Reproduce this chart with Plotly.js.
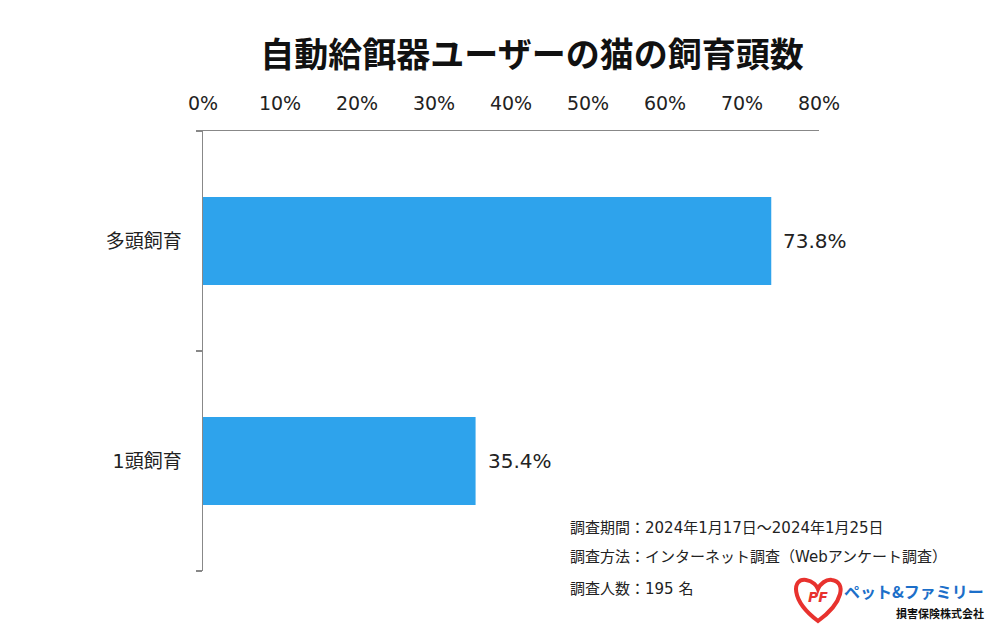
<!DOCTYPE html>
<html>
<head>
<meta charset="utf-8">
<script src="https://cdn.plot.ly/plotly-3.0.1.min.js"></script>
<style>html,body{margin:0;padding:0;background:#fff;}#chart{width:1000px;height:626px;}</style>
</head>
<body>
<div id="chart"></div>
<script>
var categories = ["1頭飼育", "多頭飼育"];
var values = [35.4, 73.8];
var valueLabels = ["35.4%", "73.8%"];
var tickValues = [0, 10, 20, 30, 40, 50, 60, 70, 80];
var tickLabels = ["0%", "10%", "20%", "30%", "40%", "50%", "60%", "70%", "80%"];
var titleText = "自動給餌器ユーザーの猫の飼育頭数";
var notes = ["調査期間：2024年1月17日～2024年1月25日", "調査方法：インターネット調査（Webアンケート調査）", "調査人数：195 名"];

var FONT = "DejaVu Sans, Noto Sans CJK JP, sans-serif";
var L = 203, R = 819, T = 131, B = 571;
function px(x) { return (x - L) / (R - L); }
function py(y) { return (B - y) / (B - T); }

var trace = {
  type: "bar",
  orientation: "h",
  x: values,
  y: categories,
  width: 0.4,
  marker: {color: "#2EA3EC"},
  hoverinfo: "none",
  cliponaxis: false
};

var annotations = values.map(function(v, i) {
  return {x: v, y: categories[i], xref: "x", yref: "y", text: valueLabels[i],
    showarrow: false, xanchor: "left", xshift: 10, font: {family: FONT, size: 20, color: "#222"}};
});
var noteY = [528, 557, 589];
notes.forEach(function(t, i) {
  annotations.push({x: px(568), y: py(noteY[i]), xref: "paper", yref: "paper",
    text: t, showarrow: false, xanchor: "left", yanchor: "middle",
    font: {family: FONT, size: 15, color: "#222"}});
});
// logo text
annotations.push({x: px(842), y: py(591), xref: "paper", yref: "paper", text: "<b>ペット&amp;ファミリー</b>",
  showarrow: false, xanchor: "left", yanchor: "middle", font: {family: "Noto Sans CJK JP", size: 16, color: "#1C6FC9"}});
annotations.push({x: px(986), y: py(613), xref: "paper", yref: "paper", text: "<b>損害保険株式会社</b>",
  showarrow: false, xanchor: "right", yanchor: "middle", font: {family: "Noto Sans CJK JP", size: 11, color: "#111"}});
annotations.push({x: px(818), y: py(597), xref: "paper", yref: "paper", text: "<b><i>PF</i></b>",
  showarrow: false, xanchor: "center", yanchor: "middle", font: {family: "DejaVu Sans", size: 14, color: "#E8322E"}});

var heartPath = "M " + px(818) + "," + py(621) +
  " C " + px(790) + "," + py(600) + " " + px(792) + "," + py(578) + " " + px(806) + "," + py(580) +
  " C " + px(813) + "," + py(581) + " " + px(817) + "," + py(586) + " " + px(818) + "," + py(589) +
  " C " + px(820) + "," + py(584) + " " + px(826) + "," + py(579) + " " + px(832) + "," + py(580) +
  " C " + px(846) + "," + py(582) + " " + px(844) + "," + py(602) + " " + px(818) + "," + py(621) + " Z";

var layout = {
  width: 1000, height: 626,
  paper_bgcolor: "#fff", plot_bgcolor: "#fff",
  margin: {l: L, r: 1000 - R, t: T, b: 626 - B},
  showlegend: false,
  title: {text: "<b>" + titleText + "</b>", x: 0.532, xanchor: "center", y: 1 - 55 / 626, yanchor: "middle",
    font: {family: "Noto Sans CJK JP", size: 34, color: "#111"}},
  xaxis: {
    side: "top", range: [0, 80], tickvals: tickValues, ticktext: tickLabels,
    showgrid: false, zeroline: false, showline: true, linecolor: "#888", linewidth: 1.5,
    ticks: "", ticklabelstandoff: 12,
    tickfont: {family: FONT, size: 19, color: "#222"}, fixedrange: true
  },
  yaxis: {
    type: "category", categoryorder: "array", categoryarray: categories,
    showgrid: false, zeroline: false, showline: true, linecolor: "#888", linewidth: 1.5,
    ticks: "outside", tickson: "boundaries", ticklen: 6, tickcolor: "#888", tickwidth: 1.5,
    ticklabelstandoff: 16,
    tickfont: {family: FONT, size: 19, color: "#222"}, fixedrange: true
  },
  shapes: [
    {type: "path", xref: "paper", yref: "paper", path: heartPath, fillcolor: "rgba(0,0,0,0)",
      line: {color: "#E8322E", width: 4}}
  ],
  annotations: annotations
};

Plotly.newPlot("chart", [trace], layout, {displayModeBar: false, staticPlot: true});
</script>
</body>
</html>
